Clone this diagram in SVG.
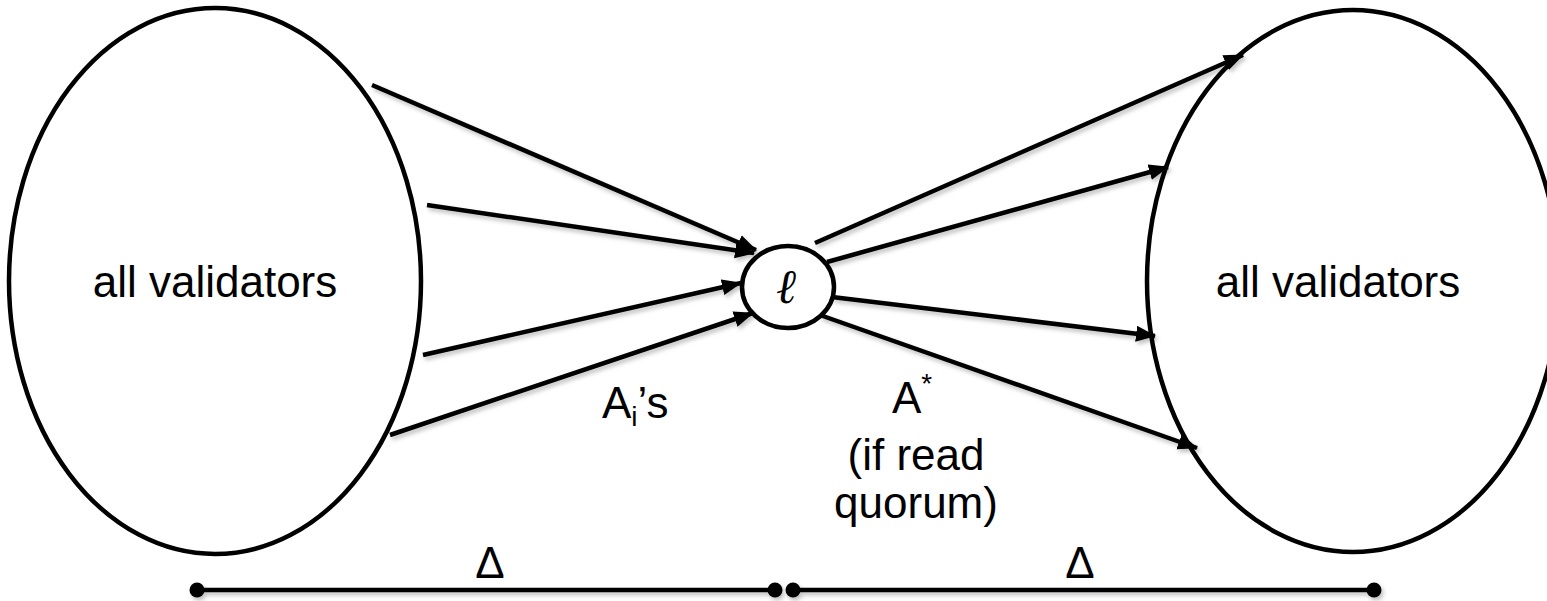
<svg xmlns="http://www.w3.org/2000/svg" width="1547" height="601" viewBox="0 0 1547 601">
<style>
.shape{fill:#fff;stroke:#000;stroke-width:4.5}
.conn{stroke:#000;stroke-width:4.5;fill:none}
.lbl{font-family:"Liberation Sans",Arial,sans-serif;font-size:44px;fill:#000}
</style>
<defs>
<filter id="sh" x="-5%" y="-20%" width="110%" height="140%">
<feDropShadow dx="2" dy="3" stdDeviation="2" flood-color="#000" flood-opacity="0.25"/>
</filter>
<marker id="ah" markerUnits="userSpaceOnUse" markerWidth="22" markerHeight="18" refX="19" refY="8" orient="auto">
<path d="M0,0 L20,8 L0,16 Z" fill="#000"/>
</marker>
<marker id="dot" markerUnits="userSpaceOnUse" markerWidth="18" markerHeight="18" refX="9" refY="9">
<circle cx="9" cy="9" r="7.5" fill="#000"/>
</marker>
</defs>
<g id="left-validators">
<ellipse class="shape" cx="215" cy="281" rx="206" ry="273"/>
<text class="lbl" x="215" y="297" text-anchor="middle">all validators</text>
</g>
<g id="right-validators">
<ellipse class="shape" cx="1353" cy="281" rx="206" ry="271"/>
<text class="lbl" x="1338" y="297" text-anchor="middle">all validators</text>
</g>
<g id="leader">
<ellipse class="shape" cx="788" cy="287" rx="46" ry="41"/>
<text x="786" y="303" text-anchor="middle" font-family="'DejaVu Serif',serif" font-style="italic" font-size="48">ℓ</text>
</g>
<g id="connectors" filter="url(#sh)">
<line class="conn" x1="372" y1="85" x2="756" y2="250" marker-end="url(#ah)"/>
<line class="conn" x1="427" y1="205" x2="754" y2="253" marker-end="url(#ah)"/>
<line class="conn" x1="423" y1="355" x2="741" y2="283" marker-end="url(#ah)"/>
<line class="conn" x1="390" y1="435" x2="753" y2="313" marker-end="url(#ah)"/>
<line class="conn" x1="815" y1="243" x2="1243" y2="55" marker-end="url(#ah)"/>
<line class="conn" x1="827" y1="262" x2="1168" y2="167" marker-end="url(#ah)"/>
<line class="conn" x1="832" y1="297" x2="1155" y2="336" marker-end="url(#ah)"/>
<line class="conn" x1="820" y1="315" x2="1197" y2="448" marker-end="url(#ah)"/>
<line class="conn" x1="197" y1="590" x2="775" y2="590" marker-start="url(#dot)" marker-end="url(#dot)"/>
<line class="conn" x1="793" y1="590" x2="1374" y2="590" marker-start="url(#dot)" marker-end="url(#dot)"/>
</g>
<g id="labels">
<text class="lbl" x="602" y="418">A<tspan font-size="28" dy="8">i</tspan><tspan dy="-8">’s</tspan></text>
<text class="lbl" x="892" y="413">A<tspan font-size="28" dy="-20">*</tspan></text>
<text class="lbl" x="916" y="470" text-anchor="middle">(if read</text>
<text class="lbl" x="916" y="518" text-anchor="middle">quorum)</text>
<text class="lbl" x="490" y="578" text-anchor="middle">Δ</text>
<text class="lbl" x="1080" y="578" text-anchor="middle">Δ</text>
</g>
</svg>
